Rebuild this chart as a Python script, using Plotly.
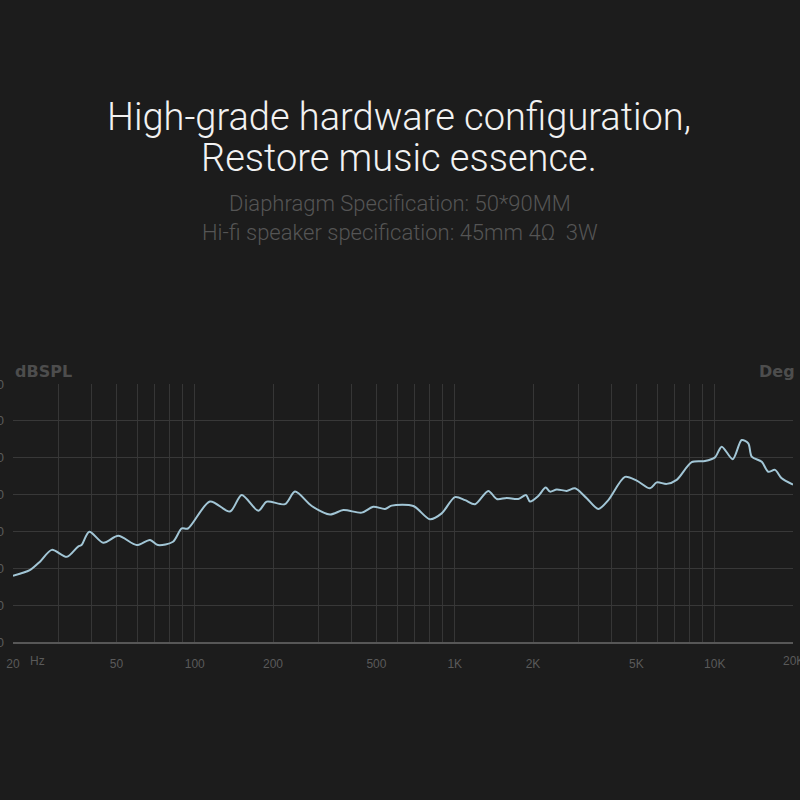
import plotly.graph_objects as go

# Frequency response (Hz, dBSPL)
freq_hz = [20, 23.2, 25.4, 28.2, 32.2, 35.6, 36.7, 39.3, 44.5, 50.8, 59.8, 67.3, 72.2, 82.5,
           89.1, 94.2, 114.4, 136.7, 151.6, 175.6, 189.2, 222.4, 243.0, 281.8, 331.4, 372.8,
           438.8, 486.2, 539.4, 572.2, 692.8, 803.2, 890.8, 1002, 1096, 1197, 1346, 1451,
           1584, 1756, 1880, 1948, 2096, 2238, 2326, 2468, 2696, 2902, 3218, 3567, 3897,
           4517, 5010, 5636, 5982, 6537, 7140, 8154, 9173, 10023, 10638, 11727, 12696,
           13462, 13875, 15159, 16069, 17052, 18090, 20000]
spl_db = [48.0, 49.5, 51.8, 55.0, 53.1, 55.9, 56.3, 59.9, 56.9, 58.8, 56.3, 57.7, 56.3, 57.2,
          60.8, 60.8, 68.1, 65.4, 69.9, 65.6, 68.1, 67.4, 70.8, 66.9, 64.6, 65.8,
          65.1, 66.7, 66.1, 67.0, 66.9, 63.3, 64.9, 69.3, 68.5, 67.4, 71.0, 68.8,
          69.1, 68.8, 69.9, 68.1, 69.6, 71.9, 70.8, 71.4, 71.0, 71.7, 69.0, 66.1, 68.5,
          74.8, 73.8, 71.7, 73.3, 72.9, 74.0, 78.8, 79.1, 80.1, 83.0, 79.6, 84.8,
          83.9, 80.3, 78.9, 76.2, 76.7, 74.4, 72.7]

# Axis ticks
grid_freqs = [20, 30, 40, 50, 60, 70, 80, 90, 100, 200, 300, 400, 500, 600, 700, 800, 900,
              1000, 2000, 3000, 4000, 5000, 6000, 7000, 8000, 9000, 10000, 20000]
freq_labels = {20: "20", 50: "50", 100: "100", 200: "200", 500: "500", 1000: "1K",
               2000: "2K", 5000: "5K", 10000: "10K"}
end_label = "20K"
db_ticks = [30, 40, 50, 60, 70, 80, 90, 100]

title_lines = ["High-grade hardware configuration,", "Restore music essence."]
sub_lines = ["Diaphragm Specification: 50*90MM", "Hi-fi speaker specification: 45mm 4\u03a9  3W"]

BG = "#1c1c1c"
fig = go.Figure()
fig.add_trace(go.Scatter(
    x=freq_hz, y=spl_db, mode="lines",
    line=dict(color="#a2c6d6", width=2, shape="spline", smoothing=0.8),
    hoverinfo="skip", showlegend=False,
))

PH = 258.0  # plot height in px
def py(ypx):
    return (642 - ypx) / PH

ann = []
for txt, ypx in zip(title_lines, [117, 158]):
    ann.append(dict(text=txt, x=0.495, y=py(ypx), xref="paper", yref="paper",
                    showarrow=False, xanchor="center", yanchor="middle",
                    font=dict(family="Roboto", size=38, color="#f2f2f2", weight=300)))
for txt, ypx in zip(sub_lines, [203, 232]):
    ann.append(dict(text=txt, x=0.496, y=py(ypx), xref="paper", yref="paper",
                    showarrow=False, xanchor="center", yanchor="middle",
                    font=dict(family="Roboto", size=22, color="#555555", weight=300)))
ann.append(dict(text="dBSPL", x=0, y=py(371), xref="paper", yref="paper",
                showarrow=False, xanchor="left", yanchor="middle",
                font=dict(family="DejaVu Sans", size=16, color="#4d4d4d", weight="bold")))
ann.append(dict(text="Deg", x=1, y=py(371), xref="paper", yref="paper", xshift=4,
                showarrow=False, xanchor="right", yanchor="middle",
                font=dict(family="DejaVu Sans", size=16, color="#4d4d4d", weight="bold")))
ann.append(dict(text="Hz", x=(37 - 13) / 780, y=py(661), xref="paper", yref="paper",
                showarrow=False, xanchor="center", yanchor="middle",
                font=dict(family="Liberation Sans", size=12, color="#5a5a5a")))
ann.append(dict(text=end_label, x=1, y=py(661), xref="paper", yref="paper",
                showarrow=False, xanchor="center", yanchor="middle",
                font=dict(family="Liberation Sans", size=12, color="#5a5a5a")))

fig.update_layout(
    width=800, height=800,
    margin=dict(l=13, r=7, t=384, b=158),
    paper_bgcolor=BG, plot_bgcolor=BG,
    annotations=ann,
    xaxis=dict(
        type="log", range=[1.30103, 4.30103], automargin=False,
        tickmode="array", tickvals=grid_freqs,
        ticktext=[freq_labels.get(f, "") for f in grid_freqs],
        showgrid=True, gridcolor="#363636", gridwidth=1,
        ticks="", ticklabelstandoff=10,
        tickfont=dict(family="Liberation Sans", size=12, color="#5a5a5a"),
        showline=True, linecolor="#575757", linewidth=2,
        zeroline=False, fixedrange=True,
    ),
    yaxis=dict(
        range=[30, 100], automargin=False, tickmode="array", tickvals=db_ticks,
        ticktext=[str(v) for v in db_ticks],
        showgrid=True, gridcolor="#383838", gridwidth=1,
        ticks="", ticklabelstandoff=8,
        tickfont=dict(family="Liberation Sans", size=13, color="#5a5a5a"),
        showline=False, zeroline=False, fixedrange=True,
    ),
)

fig.write_html("out.html")
